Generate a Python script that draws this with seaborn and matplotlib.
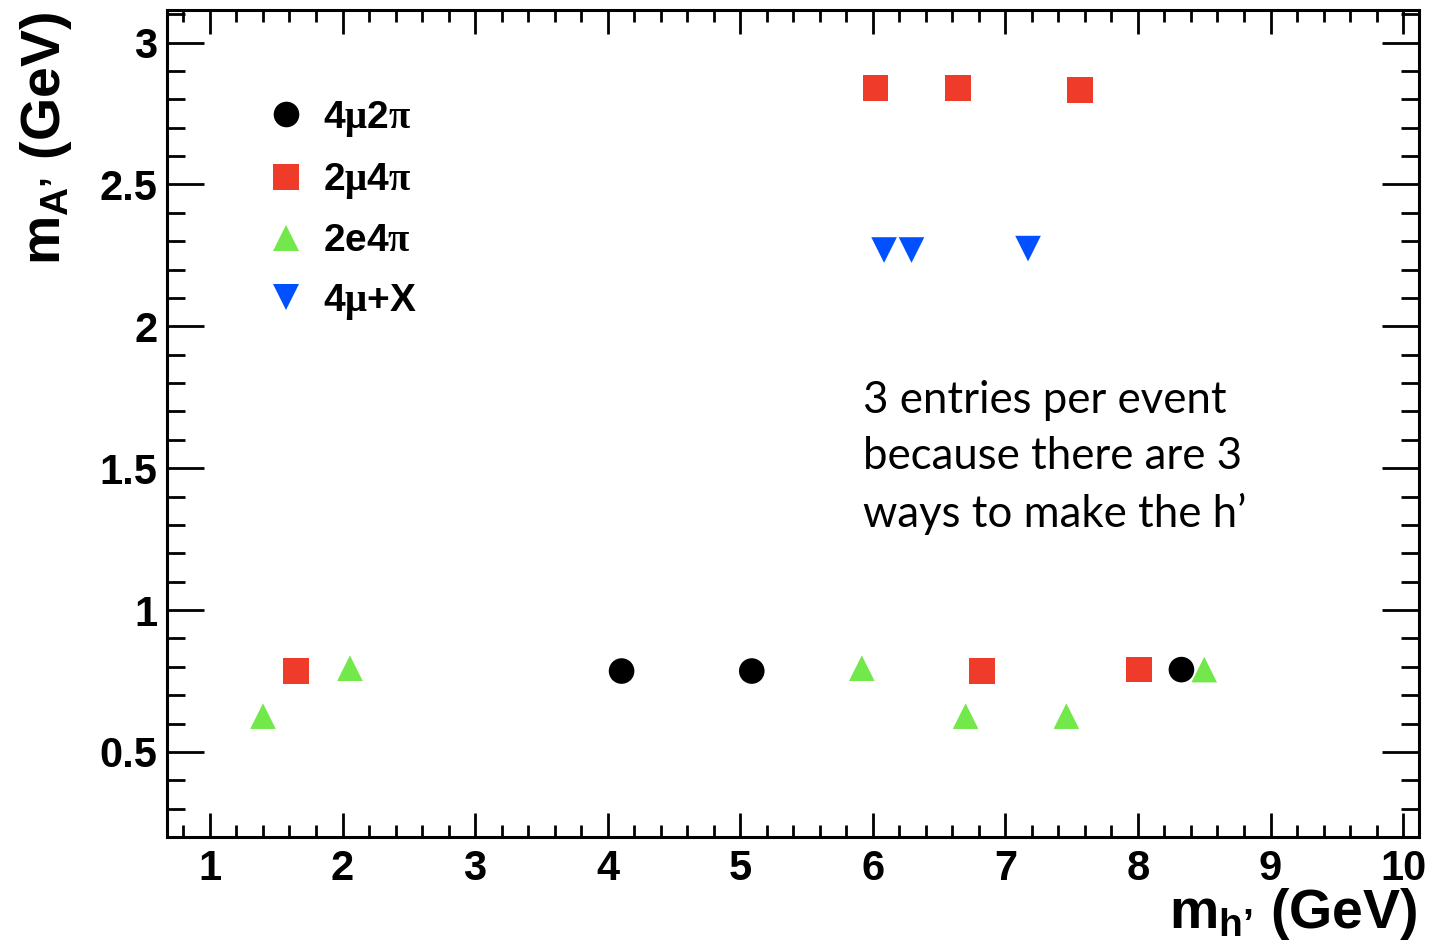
import matplotlib
matplotlib.use("Agg")
import matplotlib.pyplot as plt
from matplotlib.ticker import MultipleLocator
import pandas as pd
import seaborn as sns

# Reconstructed candidate masses for each decay channel (3 pairings per event)
channels = ["4μ2π", "2μ4π", "2e4π", "4μ+X"]

mh_4mu2pi = [4.105, 5.087, 8.328]
mA_4mu2pi = [0.785, 0.785, 0.790]

mh_2mu4pi = [1.650, 6.020, 6.643, 7.561, 6.824, 8.008]
mA_2mu4pi = [0.785, 2.839, 2.839, 2.834, 0.785, 0.790]

mh_2e4pi = [1.400, 2.056, 5.917, 6.700, 7.460, 8.500]
mA_2e4pi = [0.626, 0.795, 0.795, 0.626, 0.626, 0.790]

mh_4muX = [6.085, 6.292, 7.171]
mA_4muX = [2.269, 2.269, 2.274]

x_ticks = [1, 2, 3, 4, 5, 6, 7, 8, 9, 10]
x_ticklabels = ["1", "2", "3", "4", "5", "6", "7", "8", "9", "10"]
y_ticks = [0.5, 1, 1.5, 2, 2.5, 3]
y_ticklabels = ["0.5", "1", "1.5", "2", "2.5", "3"]

legend_labels = ["4$\\mathsf{μ}$2$\\mathsf{π}$", "2$\\mathsf{μ}$4$\\mathsf{π}$",
                 "2e4$\\mathsf{π}$", "4$\\mathsf{μ}$+X"]
note = "3 entries per event\nbecause there are 3\nways to make the h\u2019"
xlabel = "$\\mathrm{m_{h\u2019}}$ (GeV)"
ylabel = "$\\mathrm{m_{A\u2019}}$ (GeV)"

df = pd.DataFrame({
    "mh": mh_4mu2pi + mh_2mu4pi + mh_2e4pi + mh_4muX,
    "mA": mA_4mu2pi + mA_2mu4pi + mA_2e4pi + mA_4muX,
    "channel": ([channels[0]] * len(mh_4mu2pi) + [channels[1]] * len(mh_2mu4pi)
                + [channels[2]] * len(mh_2e4pi) + [channels[3]] * len(mh_4muX)),
})

palette = {channels[0]: "#000000", channels[1]: "#EE3B2A",
           channels[2]: "#72E84A", channels[3]: "#0050FF"}
markers = {channels[0]: "o", channels[1]: "s", channels[2]: "^", channels[3]: "v"}

sns.set_style("ticks")
SANS = "Liberation Sans"
plt.rcParams["font.family"] = [SANS, "DejaVu Sans"]
plt.rcParams["font.weight"] = "bold"
plt.rcParams["text.color"] = "black"
plt.rcParams["axes.labelcolor"] = "black"
plt.rcParams["xtick.color"] = "black"
plt.rcParams["ytick.color"] = "black"
plt.rcParams["mathtext.fontset"] = "custom"
plt.rcParams["mathtext.rm"] = "Liberation Sans:bold"
plt.rcParams["mathtext.bf"] = "Liberation Sans:bold"
plt.rcParams["mathtext.it"] = "Liberation Sans:bold:italic"
plt.rcParams["mathtext.sf"] = "Liberation Serif"

W, H = 1435, 952
fig = plt.figure(figsize=(W / 100, H / 100), dpi=100)
ax = fig.add_axes([167 / W, 1 - 837 / H, (1419 - 167) / W, (837 - 10) / H])

sns.scatterplot(data=df, x="mh", y="mA", hue="channel", style="channel",
                hue_order=channels, style_order=channels,
                palette=palette, markers=markers, s=340, linewidth=0,
                edgecolor="none", ax=ax, legend=True)

ax.set_xlim(0.676, 10.12)
ax.set_ylim(0.2, 3.115)
ax.set_xlabel("")
ax.set_ylabel("")

ax.xaxis.set_minor_locator(MultipleLocator(0.2))
ax.yaxis.set_minor_locator(MultipleLocator(0.1))
ax.set_xticks(x_ticks)
ax.set_xticklabels(x_ticklabels, fontfamily=SANS, fontweight="bold", color="black")
ax.set_yticks(y_ticks)
ax.set_yticklabels(y_ticklabels, fontfamily=SANS, fontweight="bold", color="black")

for s in ax.spines.values():
    s.set_linewidth(2.2)
    s.set_color("black")

ax.tick_params(axis="both", which="both", direction="in", top=True, right=True,
               width=2.0, color="black")
ax.tick_params(axis="x", which="major", length=17.5, pad=9, labelsize=30)
ax.tick_params(axis="x", which="minor", length=8.7)
ax.tick_params(axis="y", which="major", length=26.5, pad=7, labelsize=30)
ax.tick_params(axis="y", which="minor", length=13)

handles, _ = ax.get_legend_handles_labels()
leg = ax.legend(handles[-4:], legend_labels, loc="upper left",
                bbox_to_anchor=(267 / W, 1 - 99 / H), bbox_transform=fig.transFigure,
                frameon=False, borderpad=0, borderaxespad=0,
                handlelength=1.0, handletextpad=0.44, labelspacing=0.57,
                markerscale=1.0, prop={"family": SANS, "weight": "bold", "size": 28})
for t in leg.get_texts():
    t.set_color("black")

ax.text(863 / W, 1 - 380 / H, note, transform=fig.transFigure, ha="left", va="top",
        fontsize=31.5, family="Lato", fontweight="normal", linespacing=1.46,
        color="black")

fig.text(1418 / W, 1 - 928 / H, xlabel, ha="right", family=SANS,
         va="baseline", fontsize=40, fontweight="bold", color="black")
fig.text(18 / W, 1 - 12 / H, ylabel, ha="left", va="top", family=SANS,
         rotation=90, fontsize=40, fontweight="bold", color="black")

fig.savefig("out.png", dpi=100)
